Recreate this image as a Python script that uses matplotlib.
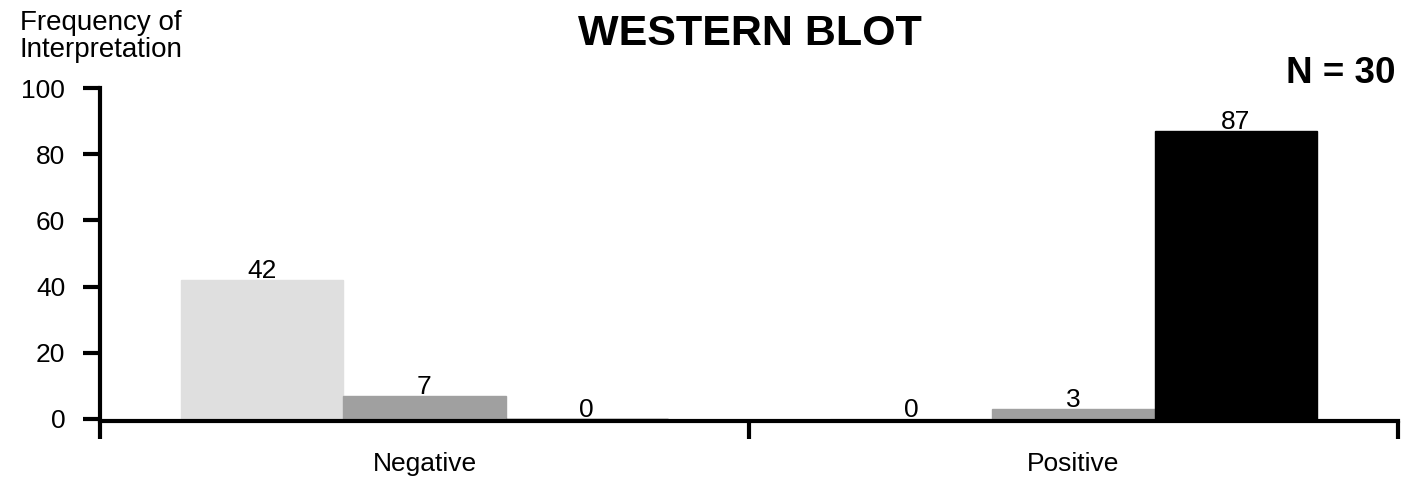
import matplotlib
matplotlib.use("Agg")
import matplotlib.pyplot as plt

plt.rcParams['font.family'] = ['Liberation Sans', 'DejaVu Sans']

# data
categories = ['Negative', 'Positive']
series_a = [42, 0]   # light gray
series_b = [7, 3]    # mid gray
series_c = [0, 87]   # black
colors = ['#dfdfdf', '#a0a0a0', '#000000']
yticks = [0, 20, 40, 60, 80, 100]

fig = plt.figure(figsize=(14.04, 4.83), dpi=100)
ax = fig.add_axes([100 / 1404, 64 / 483, 1298 / 1404, 331 / 483])

width = 0.25
offsets = [-width, 0, width]
for series, off, col in zip([series_a, series_b, series_c], offsets, colors):
    xs = [i + off for i in range(len(categories))]
    bars = ax.bar(xs, series, width=width, color=col, edgecolor=col, linewidth=1, zorder=2)
    for b, v in zip(bars, series):
        ax.annotate(str(v), (b.get_x() + b.get_width() / 2, v), xytext=(0, 1.5),
                    textcoords='offset points', ha='center', va='baseline', fontsize=19)

ax.set_xlim(-0.5, len(categories) - 0.5)
ax.set_ylim(0, 100)

for s in ['top', 'right']:
    ax.spines[s].set_visible(False)
for s in ['left', 'bottom']:
    ax.spines[s].set_linewidth(3)
    ax.spines[s].set_zorder(3)
# axis line sits just under the bar bottoms, so the zero bars show as thin lines
ax.spines['bottom'].set_position(('outward', 1.2))

ax.set_yticks(yticks)
ax.tick_params(axis='y', direction='out', length=12, width=3, pad=13, labelsize=19)

# group boundaries get the tick marks, category names sit in between
ax.set_xticks([i - 0.5 for i in range(len(categories) + 1)])
ax.set_xticklabels([])
ax.tick_params(axis='x', which='major', direction='out', length=13, width=3)
ax.set_xticks(range(len(categories)), minor=True)
ax.set_xticklabels(categories, minor=True)
ax.tick_params(axis='x', which='minor', length=0, pad=22.5, labelsize=19)

fig.text(750 / 1404, 1 - 45 / 483, 'WESTERN BLOT', ha='center', va='baseline',
         fontsize=31, fontweight='bold')
fig.text(1395 / 1404, 1 - 83 / 483, 'N = 30', ha='right', va='baseline',
         fontsize=26.5, fontweight='bold')
fig.text(20 / 1404, 1 - 30 / 483, 'Frequency of', ha='left', va='baseline', fontsize=20)
fig.text(20 / 1404, 1 - 57 / 483, 'Interpretation', ha='left', va='baseline', fontsize=20)

fig.savefig('out.png', dpi=100)
